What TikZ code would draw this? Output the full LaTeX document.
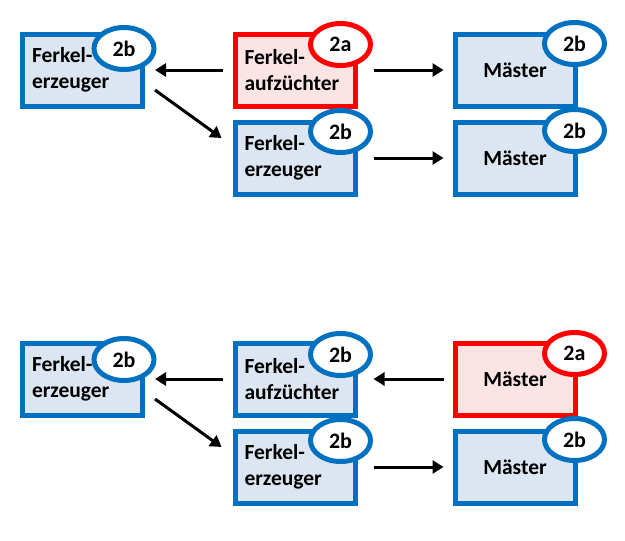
\documentclass[tikz,border=0pt]{standalone}
\usepackage{fontspec}
\setmainfont{Carlito}
\usetikzlibrary{shapes.geometric,arrows.meta,calc}
\definecolor{bblue}{HTML}{0070C0}
\definecolor{bfill}{HTML}{DCE6F2}
\definecolor{rred}{HTML}{FF0000}
\definecolor{rfill}{HTML}{FCE4E4}
\tikzset{
  box/.style={rectangle, draw=bblue, fill=bfill, line width=5pt, minimum width=120pt, minimum height=72pt, inner xsep=9.5pt, inner ysep=0pt, font=\bfseries\fontsize{21.5}{26.5}\selectfont, text=black},
  ferkel/.style={box, text width=101pt, align=left},
  master/.style={box, align=center},
  redbox/.style={draw=rred, fill=rfill},
  badge/.style={ellipse, draw=bblue, fill=white, line width=5pt, minimum width=60pt, minimum height=42pt, inner sep=0pt, font=\bfseries\fontsize{22}{24}\selectfont},
  redbadge/.style={draw=rred},
  arr/.style={line width=3pt, -{Triangle[length=11pt,width=13pt]}},
}
\begin{document}
\begin{tikzpicture}[x=1pt,y=-1pt]
\useasboundingbox (0,0) rectangle (625,541);
% ---------- top scenario ----------
\node[ferkel] (tL) at (82.5,70) {Ferkel-\\erzeuger};
\node[ferkel,redbox] (tM1) at (295,70) {Ferkel-\\aufzüchter};
\node[ferkel] (tM2) at (295,158) {Ferkel-\\erzeuger};
\node[master] (tR1) at (515,70) {Mäster};
\node[master] (tR2) at (515,158) {Mäster};
\node[badge] (btL) at ($(tL.north east)+(-21,17)$) {2b};
\node[badge,redbadge] (btM1) at ($(tM1.north east)+(-17,13)$) {2a};
\node[badge] (btM2) at ($(tM2.north east)+(-17,12)$) {2b};
\node[badge] (btR1) at ($(tR1.north east)+(-3,12)$) {2b};
\node[badge] (btR2) at ($(tR2.north east)+(-3,11)$) {2b};
\draw[arr, shorten <=10pt, shorten >=10pt] (tM1.west) -- (tL.east);
\draw[arr] ($(tL.east)+(10,20)$) -- ($(tM2.west)+(-11,-20)$);
\draw[arr, shorten <=16pt, shorten >=9pt] (tM1.east) -- (tR1.west);
\draw[arr, shorten <=16pt, shorten >=9pt] (tM2.east) -- (tR2.west);
% ---------- bottom scenario ----------
\node[ferkel] (bL) at (82.5,379) {Ferkel-\\erzeuger};
\node[ferkel] (bM1) at (295,379) {Ferkel-\\aufzüchter};
\node[ferkel] (bM2) at (295,467) {Ferkel-\\erzeuger};
\node[master,redbox] (bR1) at (515,379) {Mäster};
\node[master] (bR2) at (515,467) {Mäster};
\node[badge] (bbL) at ($(bL.north east)+(-21,19)$) {2b};
\node[badge] (bbM1) at ($(bM1.north east)+(-17,14)$) {2b};
\node[badge] (bbM2) at ($(bM2.north east)+(-17,12)$) {2b};
\node[badge,redbadge] (bbR1) at ($(bR1.north east)+(-3,13)$) {2a};
\node[badge] (bbR2) at ($(bR2.north east)+(-3,11)$) {2b};
\draw[arr, shorten <=10pt, shorten >=10pt] (bM1.west) -- (bL.east);
\draw[arr] ($(bL.east)+(10,20)$) -- ($(bM2.west)+(-11,-20)$);
\draw[arr, shorten <=9pt, shorten >=16pt] (bR1.west) -- (bM1.east);
\draw[arr, shorten <=16pt, shorten >=9pt] (bM2.east) -- (bR2.west);
\end{tikzpicture}
\end{document}
